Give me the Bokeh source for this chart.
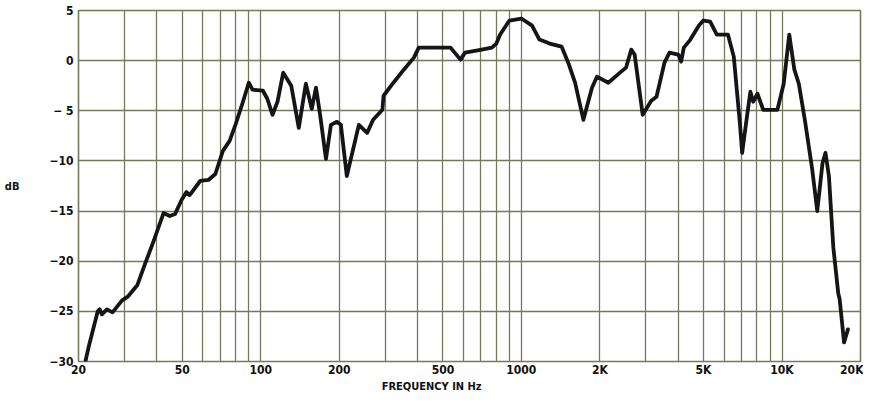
from bokeh.plotting import figure
from bokeh.models import FixedTicker
from bokeh.embed import file_html
from bokeh.resources import INLINE

# ---- data ----
freq_hz = [21.3, 21.9, 23.7, 24.1, 24.6, 25.7, 27.0, 29.4, 31.0, 33.6, 36.2, 38.7,
           42.4, 44.8, 46.9, 49.7, 51.9, 53.4, 58.6, 63, 67, 71.6, 76, 80, 85.5,
           90, 93, 102, 106, 111, 116, 122, 131, 140, 149, 157, 163, 169, 178,
           186, 196, 203, 214, 238, 256, 270, 293, 296, 323, 354, 387, 404, 535,
           584, 608, 705, 770, 802, 829, 900, 1000, 1099, 1173, 1284, 1426, 1513,
           1607, 1730, 1866, 1950, 2156, 2390, 2520, 2640, 2720, 2920, 3150, 3300,
           3540, 3700, 4000, 4100, 4200, 4450, 4800, 4990, 5300, 5620, 6200, 6530,
           6900, 7030, 7360, 7560, 7750, 8050, 8470, 9600, 10150, 10660, 11150,
           11600, 12230, 13050, 13650, 14300, 14680, 15130, 15730, 16430, 16640,
           17300, 17900]
level_db = [-29.9, -28.5, -25.0, -24.8, -25.3, -24.8, -25.1, -23.9, -23.5, -22.4,
            -20.1, -18.1, -15.2, -15.5, -15.3, -13.9, -13.1, -13.4, -12.0, -11.9,
            -11.3, -9.0, -8.0, -6.4, -4.1, -2.2, -2.9, -3.0, -3.8, -5.4, -4.1, -1.2,
            -2.5, -6.7, -2.3, -4.8, -2.7, -5.4, -9.8, -6.4, -6.1, -6.4, -11.5, -6.4,
            -7.2, -5.9, -4.9, -3.5, -2.2, -0.9, 0.3, 1.3, 1.3, 0.1, 0.8, 1.1, 1.3,
            1.7, 2.6, 4.0, 4.2, 3.5, 2.1, 1.7, 1.4, -0.2, -2.2, -5.9, -2.7, -1.6,
            -2.2, -1.2, -0.7, 1.1, 0.6, -5.4, -4.0, -3.6, -0.2, 0.8, 0.6, -0.1, 1.3,
            2.1, 3.5, 4.0, 3.9, 2.6, 2.6, 0.4, -6.4, -9.2, -5.3, -3.1, -4.1, -3.3,
            -4.9, -4.9, -2.3, 2.6, -0.9, -2.3, -5.9, -10.8, -15.0, -10.2, -9.2,
            -11.5, -18.6, -23.2, -23.8, -28.1, -26.8]

x_tick_values = [20, 50, 100, 200, 500, 1000, 2000, 5000, 10000, 20000]
x_tick_labels = ["20", "50", "100", "200", "500", "1000", "2K", "5K", "10K", "20K"]
x_grid_values = [20, 30, 40, 50, 60, 70, 80, 90, 100, 200, 300, 400, 500, 600, 700,
                 800, 900, 1000, 2000, 3000, 4000, 5000, 6000, 7000, 8000, 9000,
                 10000, 20000]
y_tick_values = [5, 0, -5, -10, -15, -20, -25, -30]
y_tick_labels = ["5", "0", "\u2212 5", "\u221210", "\u221215", "\u221220", "\u221225", "\u221230"]
x_title = "FREQUENCY IN Hz"

FONT = "DejaVu Sans Condensed"
GRID = "#77775c"
INK = "#111111"

p = figure(width=863, height=395, x_axis_type="log",
           x_range=(20, 20000), y_range=(-30, 5),
           output_backend="svg", toolbar_location=None,
           min_border_left=78, min_border_right=3, min_border_top=10,
           min_border_bottom=29)

p.line(freq_hz, level_db, line_color="#151515", line_width=3.8,
       line_join="round", line_cap="round")

p.outline_line_color = GRID
p.outline_line_width = 1.6

p.xaxis.ticker = FixedTicker(ticks=x_tick_values)
p.xaxis.major_label_overrides = {v: s for v, s in zip(x_tick_values, x_tick_labels)}
p.yaxis.ticker = FixedTicker(ticks=y_tick_values)
p.yaxis.major_label_overrides = {v: s for v, s in zip(y_tick_values, y_tick_labels)}

for ax in (p.xaxis[0], p.yaxis[0]):
    ax.axis_line_color = None
    ax.major_tick_line_color = None
    ax.minor_tick_line_color = None
    ax.major_tick_out = 0
    ax.major_tick_in = 0
    ax.minor_tick_out = 0
    ax.minor_tick_in = 0
    ax.major_label_text_font = FONT
    ax.major_label_text_font_style = "bold"
    ax.major_label_text_font_size = "12px"
    ax.major_label_text_color = INK
    ax.axis_label_text_font = FONT
    ax.axis_label_text_font_style = "bold"
    ax.axis_label_text_font_size = "11px"
    ax.axis_label_text_color = INK

p.xaxis.major_label_standoff = 1
p.yaxis.major_label_standoff = 5

# x title sits left of centre in the reference: pad it on the right
p.xaxis.axis_label = x_title + "\u00a0" * 22
p.xaxis.axis_label_standoff = 0

p.yaxis.axis_label = "dB"
p.yaxis.axis_label_orientation = "horizontal"
p.yaxis.axis_label_standoff = 27

p.xgrid.ticker = FixedTicker(ticks=x_grid_values)
p.xgrid.grid_line_color = GRID
p.xgrid.grid_line_width = 1.3
p.ygrid.grid_line_color = GRID
p.ygrid.grid_line_width = 1.3

open("out.html", "w").write(file_html(p, INLINE))
